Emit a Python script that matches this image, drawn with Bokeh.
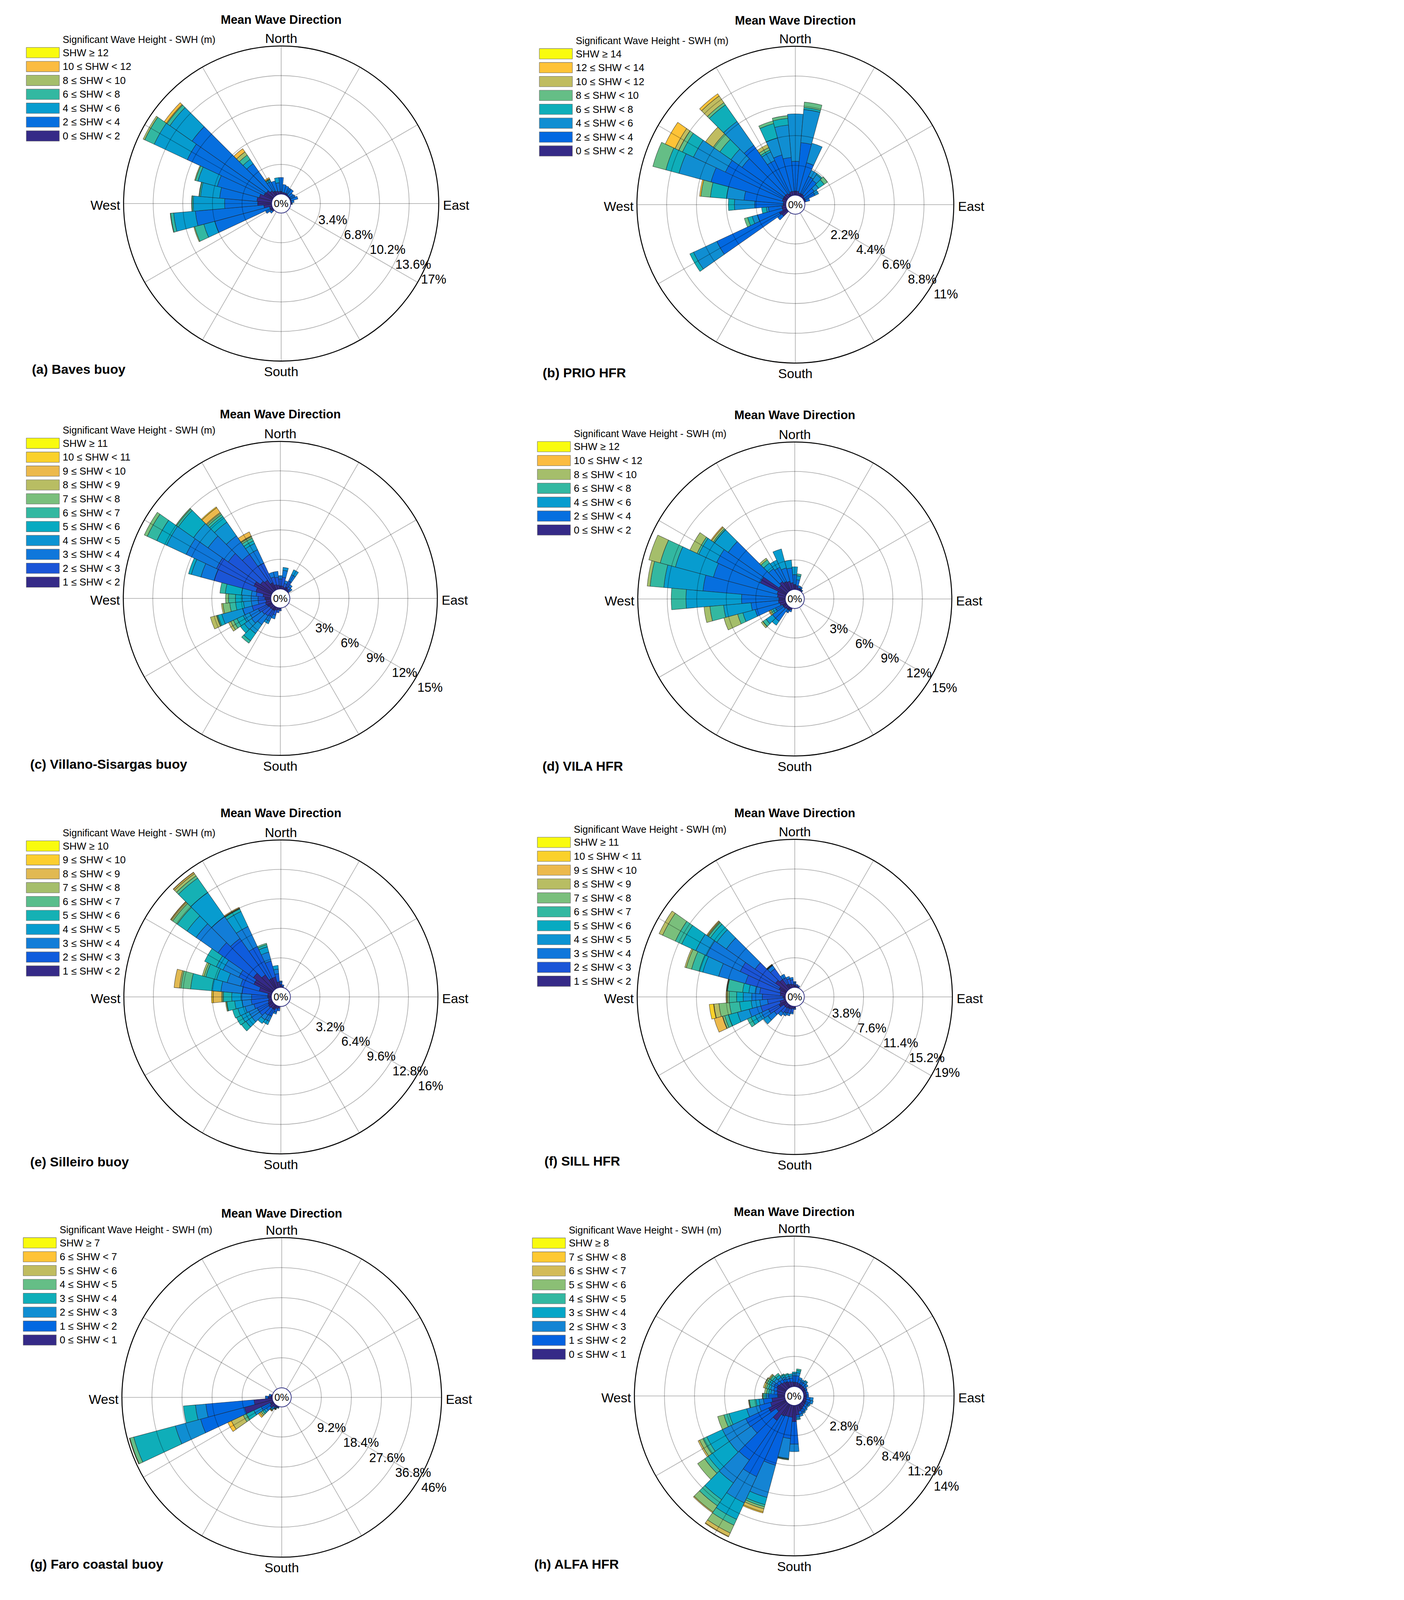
import math
from bokeh.plotting import figure
from bokeh.models import ColumnDataSource, Range1d, Label
from bokeh.layouts import gridplot
from bokeh.embed import file_html
from bokeh.resources import INLINE
from bokeh.core.properties import value

# ---------------------------------------------------------------- data
# bearings (deg, clockwise from North) and cumulative frequency (%) per SWH class

A_CLASSES = ["0 \u2264 SHW < 2", "2 \u2264 SHW < 4", "4 \u2264 SHW < 6", "6 \u2264 SHW < 8",
             "8 \u2264 SHW < 10", "10 \u2264 SHW < 12", "SHW \u2265 12"]
A_TICKS = [3.4, 6.8, 10.2, 13.6, 17]
A_DIR = [0, 10, 20, 30, 40, 50, 60, 70, 80, 90, 230, 240, 250, 260, 270, 280, 290, 300, 310, 320, 330, 340, 350]
A_CUM = [[0.3, 1.9], [0.2, 1.1], [0.2, 1.0], [0.2, 0.9], [0.1, 0.9], [0.1, 0.6], [0.1, 0.7],
         [0.1, 0.9], [0.1, 0.4], [0.1, 0.2], [0.2, 0.5], [0.3, 0.9],
         [0.3, 6.8, 8.1, 9.2, 9.3],
         [0.9, 8.8, 11.3, 11.65, 11.7],
         [1.6, 5.4, 9.0, 9.15, 9.2],
         [1.7, 6.0, 8.2, 8.35, 8.4],
         [1.5, 6.5, 8.8, 9.1, 9.2],
         [1.1, 10.8, 15.0, 16.2, 16.4],
         [1.0, 11.4, 14.5, 14.9, 15.0, 15.3],
         [0.7, 4.5, 5.1, 5.7, 6.15, 6.6],
         [0.5, 1.7, 1.9, 2.0, 2.05, 2.2],
         [0.4, 1.6],
         [0.3, 1.3, 1.9]]

B_CLASSES = ["0 \u2264 SHW < 2", "2 \u2264 SHW < 4", "4 \u2264 SHW < 6", "6 \u2264 SHW < 8",
             "8 \u2264 SHW < 10", "10 \u2264 SHW < 12", "12 \u2264 SHW < 14", "SHW \u2265 14"]
B_TICKS = [2.2, 4.4, 6.6, 8.8, 11]
B_DIR = [0, 10, 20, 30, 40, 50, 60, 70, 230, 240, 250, 260, 270, 280, 290, 300, 310, 320, 330, 340, 350]
B_CUM = [[0.3, 2.5, 6.0],
         [0.3, 3.9, 6.35, 6.5, 6.9],
         [0.2, 2.5, 4.0],
         [0.2, 1.6, 2.1],
         [0.2, 1.5, 2.0, 2.1],
         [0.1, 1.0, 1.4, 1.9, 2.2],
         [0.1, 0.9, 1.2],
         [0.1, 0.4],
         [0.5, 0.9],
         [0.6, 5.7, 7.6, 7.9],
         [0.3, 2.2, 2.6, 2.95, 3.2],
         [0.3, 1.3, 1.45, 1.8],
         [0.2, 2.3, 3.8, 4.25],
         [0.2, 3.1, 4.4, 5.6, 6.3, 6.3, 6.4],
         [0.3, 5.75, 8.2, 9.2, 10.2],
         [0.3, 5.0, 7.6, 8.5, 8.8, 9.1, 9.9],
         [0.3, 4.1, 5.1, 6.1, 6.7, 7.4],
         [0.3, 4.65, 6.8, 8.3, 8.5, 9.1, 9.3],
         [0.2, 2.9, 3.6, 3.75, 3.95, 4.2],
         [0.3, 3.1, 4.4, 5.5, 5.7],
         [0.3, 2.8, 5.2, 5.7, 5.9]]

C_CLASSES = ["1 \u2264 SHW < 2", "2 \u2264 SHW < 3", "3 \u2264 SHW < 4", "4 \u2264 SHW < 5",
             "5 \u2264 SHW < 6", "6 \u2264 SHW < 7", "7 \u2264 SHW < 8", "8 \u2264 SHW < 9",
             "9 \u2264 SHW < 10", "10 \u2264 SHW < 11", "SHW \u2265 11"]
C_TICKS = [3, 6, 9, 12, 15]
C_DIR = [0, 10, 20, 30, 40, 50, 180, 190, 200, 210, 220, 230, 240, 250, 260, 270, 280, 290, 300, 310, 320, 330, 340, 350]
C_CUM = [[0.3, 1.0, 1.35],
         [0.3, 1.2, 1.9, 2.2],
         [0.2, 0.6, 0.9],
         [0.3, 1.0, 1.7, 2.25],
         [0.2, 0.5, 0.75],
         [0.1, 0.3, 0.5],
         [0.1, 0.3],
         [0.2, 0.5],
         [0.3, 0.8, 1.2],
         [0.4, 1.1, 1.6, 1.9],
         [0.4, 1.2, 2.3, 3.4, 4.3, 4.6],
         [0.4, 1.3, 2.6, 3.5, 4.0],
         [0.5, 1.5, 2.5, 3.2, 3.9, 4.3, 4.6, 4.85],
         [0.6, 2.0, 3.0, 5.2, 5.6, 5.7, 5.75, 6.4],
         [0.5, 1.3, 2.0, 2.8, 3.6, 4.2, 4.9, 5.05],
         [0.6, 1.3, 2.0, 2.9, 3.6, 4.3, 4.6],
         [0.8, 1.5, 2.0, 3.0, 4.65, 5.2],
         [1.6, 6.0, 7.4, 8.4, 8.7],
         [2.0, 6.2, 9.6, 11.8, 12.9, 13.97, 14.3],
         [1.5, 5.5, 8.0, 9.8, 11.7, 11.9, 12.0],
         [1.3, 4.5, 6.8, 8.5, 9.2, 9.45, 9.6, 9.7, 10.3, 10.4],
         [0.8, 3.0, 4.5, 5.2, 5.5, 5.8, 5.95, 6.05, 6.5],
         [0.5, 1.3, 1.8],
         [0.4, 1.2, 1.8]]

D_CLASSES = list(A_CLASSES)
D_TICKS = [3, 6, 9, 12, 15]
D_DIR = [0, 10, 20, 30, 40, 200, 210, 220, 230, 240, 250, 260, 270, 280, 290, 300, 310, 320, 330, 340, 350]
D_CUM = [[0.5, 1.5, 2.3],
         [0.4, 1.0, 1.4, 1.6],
         [0.2, 0.45],
         [0.2, 0.4],
         [0.1, 0.2],
         [0.2, 0.4],
         [0.3, 0.6],
         [0.3, 1.8, 2.3],
         [0.4, 1.8, 2.6, 3.0, 3.2],
         [0.4, 1.2, 1.5, 1.7, 1.85, 1.95],
         [0.6, 3.2, 4.5, 5.05, 6.5],
         [0.7, 3.5, 6.3, 7.7, 8.3],
         [0.65, 4.45, 10.1, 11.6],
         [0.8, 8.4, 12.4, 13.8, 14.1],
         [0.9, 7.6, 11.6, 13.2, 14.4],
         [2.9, 7.8, 9.8, 10.0, 10.8],
         [1.0, 7.3, 9.0, 9.15, 9.35, 9.45],
         [1.2, 2.8, 3.5, 3.9, 4.1],
         [1.0, 2.6, 3.4],
         [0.9, 2.3, 4.3],
         [0.7, 2.2, 3.0]]

E_CLASSES = ["1 \u2264 SHW < 2", "2 \u2264 SHW < 3", "3 \u2264 SHW < 4", "4 \u2264 SHW < 5",
             "5 \u2264 SHW < 6", "6 \u2264 SHW < 7", "7 \u2264 SHW < 8", "8 \u2264 SHW < 9",
             "9 \u2264 SHW < 10", "SHW \u2265 10"]
E_TICKS = [3.2, 6.4, 9.6, 12.8, 16]
E_DIR = [0, 10, 190, 200, 210, 220, 230, 240, 250, 260, 270, 280, 290, 300, 310, 320, 330, 340, 350]
E_CUM = [[0.3, 0.6, 0.7],
         [0.1, 0.3],
         [0.2, 0.5],
         [0.3, 0.7, 0.9],
         [0.5, 1.3, 1.9, 2.3],
         [0.5, 1.4, 2.0, 2.5],
         [0.6, 1.8, 2.8, 3.6, 4.2],
         [0.5, 1.8, 2.8, 3.7, 4.3],
         [0.4, 2.0, 3.0, 3.8, 4.4],
         [0.3, 2.2, 3.2, 4.0, 4.85, 4.9, 5.0],
         [0.4, 2.15, 3.3, 4.3, 5.2, 5.3, 5.4, 6.3, 6.5],
         [0.4, 3.2, 5.5, 6.5, 8.8, 9.85, 10.0, 10.6],
         [1.4, 3.5, 5.0, 6.2, 7.4, 7.6, 7.8],
         [2.2, 4.0, 5.9, 6.7, 8.1],
         [2.6, 7.3, 10.2, 11.4, 12.7, 13.3, 13.45, 13.55, 13.6],
         [1.9, 6.7, 9.6, 12.8, 14.7, 15.0, 15.3, 15.45, 15.5],
         [1.2, 5.0, 7.4, 9.2, 9.5, 9.55, 9.6, 9.7],
         [1.2, 3.0, 4.0, 4.6, 4.85, 5.0],
         [0.6, 1.5, 2.0, 2.4]]

F_CLASSES = list(C_CLASSES)
F_TICKS = [3.8, 7.6, 11.4, 15.2, 19]
F_DIR = [0, 10, 20, 180, 190, 200, 210, 220, 230, 240, 250, 260, 270, 280, 290, 300, 310, 320, 330, 340, 350]
F_CUM = [[0.3, 0.6, 0.75],
         [0.2, 0.4],
         [0.1, 0.3],
         [0.2, 0.4],
         [0.3, 0.8, 1.0],
         [0.4, 1.0, 1.3],
         [0.4, 1.1, 1.5],
         [0.5, 1.3, 1.8],
         [0.5, 2.0, 3.0, 3.7],
         [1.0, 2.5, 3.5, 4.4, 5.0, 5.5],
         [0.75, 3.3, 4.85, 6.4, 7.6, 8.1, 8.35, 8.4, 9.5],
         [0.2, 2.3, 3.3, 4.4, 5.9, 7.2, 8.55, 9.2, 9.25, 9.8],
         [0.3, 2.95, 4.3, 5.4, 6.25, 7.2, 7.4, 7.5, 7.6],
         [0.65, 3.3, 3.9, 4.7, 5.5, 7.45, 7.5, 7.55, 7.6],
         [0.75, 5.35, 8.9, 11.0, 11.5, 12.5, 13.2, 13.4],
         [1.0, 6.5, 11.3, 12.8, 14.8, 15.7, 17.5, 18.0],
         [1.8, 5.0, 9.5, 11.0, 12.0, 12.3, 12.4, 12.5, 12.6],
         [1.5, 3.2, 3.7, 3.75, 3.8, 3.82, 3.85, 3.88, 3.9],
         [0.6, 1.5, 2.0],
         [0.5, 1.2, 1.5],
         [0.4, 1.0, 1.3]]

G_CLASSES = ["0 \u2264 SHW < 1", "1 \u2264 SHW < 2", "2 \u2264 SHW < 3", "3 \u2264 SHW < 4",
             "4 \u2264 SHW < 5", "5 \u2264 SHW < 6", "6 \u2264 SHW < 7", "SHW \u2265 7"]
G_TICKS = [9.2, 18.4, 27.6, 36.8, 46]
G_DIR = [200, 210, 220, 230, 240, 250, 260, 270, 280]
G_CUM = [[0.3, 0.5, 0.6],
         [0.5, 0.8, 1.0, 1.1, 1.2, 1.25, 1.3],
         [0.8, 1.3, 1.6, 1.9, 2.0, 2.1, 2.3],
         [1.5, 2.8, 3.6, 4.2, 4.8, 5.3, 5.8],
         [1.0, 4.0, 6.5, 9.0, 10.1, 14.1, 15.3],
         [8.9, 22.8, 30.8, 44.0, 45.2, 45.3, 45.4],
         [5.6, 20.4, 23.6, 27.3],
         [1.2, 2.1],
         [0.4, 1.0]]

H_CLASSES = ["0 \u2264 SHW < 1", "1 \u2264 SHW < 2", "2 \u2264 SHW < 3", "3 \u2264 SHW < 4",
             "4 \u2264 SHW < 5", "5 \u2264 SHW < 6", "6 \u2264 SHW < 7", "7 \u2264 SHW < 8", "SHW \u2265 8"]
H_TICKS = [2.8, 5.6, 8.4, 11.2, 14]
H_DIR = list(range(0, 360, 10))
H_CUM = [[0.4, 1.0, 1.2, 1.35],
         [0.4, 1.0, 1.3, 1.5, 1.65],
         [0.35, 0.7, 0.9],
         [0.3, 0.6, 0.8],
         [0.3, 0.6, 0.8, 0.9],
         [0.3, 0.5, 0.7],
         [0.25, 0.45],
         [0.25, 0.4],
         [0.25, 0.45],
         [0.25, 0.45],
         [0.25, 0.6, 0.9],
         [0.3, 0.7, 0.95],
         [0.3, 0.6, 0.8],
         [0.35, 0.6, 0.75],
         [0.4, 0.7, 0.85],
         [0.5, 0.8, 0.95],
         [0.6, 0.9, 1.1],
         [0.9, 1.1, 1.25, 1.35],
         [1.5, 3.6, 4.3],
         [1.1, 3.1, 4.95, 5.0, 5.05, 5.1],
         [1.1, 5.8, 8.9, 9.6, 9.8, 10.0, 10.3, 10.4],
         [1.2, 7.4, 10.1, 11.8, 12.4, 13.2, 13.55, 13.6],
         [1.9, 6.4, 9.0, 10.9, 11.6, 12.3, 12.4],
         [1.15, 4.0, 6.5, 8.9, 9.3, 10.1],
         [1.75, 4.1, 6.5, 8.1, 8.5, 8.85, 9.0],
         [1.4, 2.5, 3.7, 5.4, 5.9, 6.5],
         [1.2, 2.0, 2.4, 2.7, 3.3, 3.35, 3.4],
         [0.65, 1.5, 1.7, 1.85, 2.0, 2.05, 2.1],
         [0.7, 1.0, 1.3, 1.5, 1.7, 1.9],
         [0.8, 1.1, 1.4, 1.6, 1.8, 1.95, 2.1],
         [0.9, 1.2, 1.5, 1.7, 1.9, 2.05, 2.1],
         [0.8, 1.1, 1.4, 1.6, 1.8, 1.9, 2.0],
         [0.7, 1.0, 1.25, 1.5, 1.7],
         [0.6, 0.9, 1.1, 1.3, 1.4],
         [0.5, 0.8, 1.0, 1.2, 1.3],
         [0.45, 0.8, 1.0, 1.2]]

CAPTIONS = ["(a) Baves buoy", "(b) PRIO HFR", "(c) Villano-Sisargas buoy", "(d) VILA HFR",
            "(e) Silleiro buoy", "(f) SILL HFR", "(g) Faro coastal buoy", "(h) ALFA HFR"]

# ---------------------------------------------------------------- style
PARULA64 = [[0.2081, 0.1663, 0.5292], [0.2116, 0.1898, 0.5777], [0.2123, 0.2138, 0.6270], [0.2081, 0.2386, 0.6771],
            [0.1959, 0.2645, 0.7279], [0.1707, 0.2919, 0.7792], [0.1253, 0.3242, 0.8303], [0.0591, 0.3598, 0.8683],
            [0.0117, 0.3875, 0.8820], [0.0060, 0.4086, 0.8828], [0.0165, 0.4266, 0.8786], [0.0329, 0.4430, 0.8720],
            [0.0498, 0.4586, 0.8641], [0.0629, 0.4737, 0.8554], [0.0723, 0.4887, 0.8467], [0.0779, 0.5040, 0.8384],
            [0.0793, 0.5200, 0.8312], [0.0749, 0.5375, 0.8263], [0.0641, 0.5570, 0.8240], [0.0488, 0.5772, 0.8228],
            [0.0343, 0.5966, 0.8199], [0.0265, 0.6137, 0.8135], [0.0239, 0.6287, 0.8038], [0.0231, 0.6418, 0.7913],
            [0.0228, 0.6535, 0.7768], [0.0267, 0.6642, 0.7607], [0.0384, 0.6743, 0.7436], [0.0590, 0.6838, 0.7254],
            [0.0843, 0.6928, 0.7062], [0.1133, 0.7015, 0.6859], [0.1453, 0.7098, 0.6646], [0.1801, 0.7177, 0.6424],
            [0.2178, 0.7250, 0.6193], [0.2586, 0.7317, 0.5954], [0.3022, 0.7376, 0.5712], [0.3482, 0.7424, 0.5473],
            [0.3953, 0.7459, 0.5244], [0.4420, 0.7481, 0.5033], [0.4871, 0.7491, 0.4840], [0.5300, 0.7491, 0.4661],
            [0.5709, 0.7485, 0.4494], [0.6099, 0.7473, 0.4337], [0.6473, 0.7456, 0.4188], [0.6834, 0.7435, 0.4044],
            [0.7184, 0.7411, 0.3905], [0.7525, 0.7384, 0.3768], [0.7858, 0.7356, 0.3633], [0.8185, 0.7327, 0.3498],
            [0.8507, 0.7299, 0.3360], [0.8824, 0.7274, 0.3217], [0.9139, 0.7258, 0.3063], [0.9450, 0.7261, 0.2886],
            [0.9739, 0.7314, 0.2666], [0.9938, 0.7455, 0.2403], [0.9990, 0.7653, 0.2164], [0.9955, 0.7861, 0.1967],
            [0.9880, 0.8066, 0.1794], [0.9789, 0.8271, 0.1633], [0.9697, 0.8481, 0.1475], [0.9626, 0.8705, 0.1309],
            [0.9589, 0.8949, 0.1132], [0.9598, 0.9218, 0.0948], [0.9661, 0.9514, 0.0755], [0.9763, 0.9831, 0.0538]]


def parula(n):
    out = []
    for k in range(n):
        t = k / (n - 1) * 63
        i = int(math.floor(t))
        f = t - i
        if i >= 63:
            i, f = 62, 1.0
        c = [PARULA64[i][j] * (1 - f) + PARULA64[i + 1][j] * f for j in range(3)]
        out.append("#%02x%02x%02x" % tuple(int(round(v * 255)) for v in c))
    return out


FONT = "Liberation Sans"
# the photographed area is only about 4100 px tall, so the whole page is scaled uniformly to fit
SC = 0.718
W, H = 1789, 1411            # panel size in reference pixels
WP, HP = round(W * SC), round(H * SC)
HOLE = 34.0

# per-panel layout in reference pixels: centre, outer radius, legend, caption, tick-label offset
LAYOUTS = [
    dict(cx=1002, cy=725, R=562, leg_x=-909, leg_y=585, cap_x=-889, cap_y=590, toff=(12, 11)),
    dict(cx=1046, cy=729, R=565, leg_x=-913, leg_y=585, cap_x=-901, cap_y=599, toff=(4, -37)),
    dict(cx=999, cy=722, R=560, leg_x=-906, leg_y=600, cap_x=-892, cap_y=590, toff=(4, -37)),
    dict(cx=1044, cy=724, R=560, leg_x=-918, leg_y=590, cap_x=-900, cap_y=595, toff=(4, -37)),
    dict(cx=1001, cy=732, R=560, leg_x=-908, leg_y=585, cap_x=-894, cap_y=588, toff=(4, -37)),
    dict(cx=1044, cy=732, R=562, leg_x=-918, leg_y=598, cap_x=-893, cap_y=585, toff=(12, 11)),
    dict(cx=1004, cy=749, R=570, leg_x=-922, leg_y=598, cap_x=-897, cap_y=595, toff=(4, -37)),
    dict(cx=1042, cy=744, R=570, leg_x=-934, leg_y=592, cap_x=-927, cap_y=600, toff=(4, -37)),
]


def fs(v):
    return f"{v * SC:.1f}px"


def make_panel(dirs, cums, classes, ticks, caption, lay):
    R = lay["R"]
    maxp = ticks[-1]
    s = (R - HOLE) / maxp          # reference pixels per percent
    h = HOLE / s                   # hole radius in data units
    cx, cy = lay["cx"], lay["cy"]
    x0r = -cx / s
    y1r = cy / s
    p = figure(width=WP, height=HP, title=None,
               x_range=Range1d(x0r, x0r + WP / (s * SC)),
               y_range=Range1d(y1r - HP / (s * SC), y1r),
               output_backend="svg", toolbar_location=None,
               x_axis_type=None, y_axis_type=None, min_border=0,
               outline_line_color=None, background_fill_color="white",
               border_fill_color="white")

    colors = parula(len(classes))
    for k, col in enumerate(colors):
        ir, orr, sa, ea = [], [], [], []
        for d, c in zip(dirs, cums):
            if k < len(c):
                lo = c[k - 1] if k > 0 else 0.0
                hi = c[k]
                if hi > lo:
                    ir.append(h + lo)
                    orr.append(h + hi)
                    sa.append(math.radians(90 - d - 5))
                    ea.append(math.radians(90 - d + 5))
        if ir:
            src = ColumnDataSource(dict(ir=ir, orr=orr, sa=sa, ea=ea))
            p.annular_wedge(x=0, y=0, inner_radius="ir", outer_radius="orr",
                            start_angle="sa", end_angle="ea", source=src,
                            fill_color=col, line_color="#1e1e1e", line_alpha=0.75,
                            line_width=1.5 * SC)

    rmax = h + maxp
    x0, y0, x1, y1 = [], [], [], []
    for b in range(0, 360, 30):
        a = math.radians(b)
        x0.append(h * math.sin(a)); y0.append(h * math.cos(a))
        x1.append(rmax * math.sin(a)); y1.append(rmax * math.cos(a))
    p.segment(x0, y0, x1, y1, line_color="black", line_alpha=0.3, line_width=2.5 * SC)
    rr = [h + t for t in ticks[:-1]]
    p.circle(x=[0] * len(rr), y=[0] * len(rr), radius=rr, fill_color=None,
             line_color="black", line_alpha=0.3, line_width=2.5 * SC)
    p.circle(x=[0], y=[0], radius=[rmax], fill_color=None, line_color="black", line_width=3.5 * SC)
    p.circle(x=[0], y=[0], radius=[h], fill_color="white", line_color="#23237a", line_width=2.5 * SC)

    def lab(x, y, text, size, align="center", bold=False):
        p.add_layout(Label(x=x, y=y, text=text, text_font=FONT, text_font_size=fs(size),
                           text_align=align, text_baseline="middle",
                           text_font_style="bold" if bold else "normal", text_color="black"))

    ox, oy = lay["toff"]
    ca, sa_ = math.sin(math.radians(120)), math.cos(math.radians(120))
    for t in ticks:
        r = h + t
        lab(r * ca + ox / s, r * sa_ + oy / s, f"{t:g}%", 45, align="left")

    lab(0, rmax + 27 / s, "North", 47)
    lab(0, -(rmax + 37 / s), "South", 47)
    lab(-(rmax + 12 / s), -6 / s, "West", 47, align="right")
    lab(rmax + 15 / s, -6 / s, "East", 47, align="left")
    lab(0, 0, "0%", 36)
    lab(0, 656 / s, "Mean Wave Direction", 43, bold=True)
    lab(lay["cap_x"] / s, -lay["cap_y"] / s, caption, 47, align="left", bold=True)

    bl, ty = lay["leg_x"], lay["leg_y"]
    lab((bl + 130) / s, ty / s, "Significant Wave Height - SWH (m)", 35, align="left")
    n = len(classes)
    ys = [(ty - 47 - i * 49.5) / s for i in range(n)]
    lsrc = ColumnDataSource(dict(x=[(bl + 59) / s] * n, y=ys, c=list(reversed(colors)),
                                 t=list(reversed(classes)), tx=[(bl + 130) / s] * n))
    p.rect(x="x", y="y", width=118 / s, height=37 / s, fill_color="c",
           line_color="#6e6e6e", line_width=1.5 * SC, source=lsrc)
    p.text(x="tx", y="y", text="t", text_font=value(FONT), text_font_size=fs(36),
           text_baseline="middle", text_align="left", text_color="black", source=lsrc)
    return p


SPECS = [(A_DIR, A_CUM, A_CLASSES, A_TICKS), (B_DIR, B_CUM, B_CLASSES, B_TICKS),
         (C_DIR, C_CUM, C_CLASSES, C_TICKS), (D_DIR, D_CUM, D_CLASSES, D_TICKS),
         (E_DIR, E_CUM, E_CLASSES, E_TICKS), (F_DIR, F_CUM, F_CLASSES, F_TICKS),
         (G_DIR, G_CUM, G_CLASSES, G_TICKS), (H_DIR, H_CUM, H_CLASSES, H_TICKS)]

panels = [make_panel(d, c, cl, t, CAPTIONS[i], LAYOUTS[i]) for i, (d, c, cl, t) in enumerate(SPECS)]
grid = gridplot([panels[0:2], panels[2:4], panels[4:6], panels[6:8]], toolbar_location=None)

open("out.html", "w").write(file_html(grid, INLINE, title="Mean Wave Direction roses"))
